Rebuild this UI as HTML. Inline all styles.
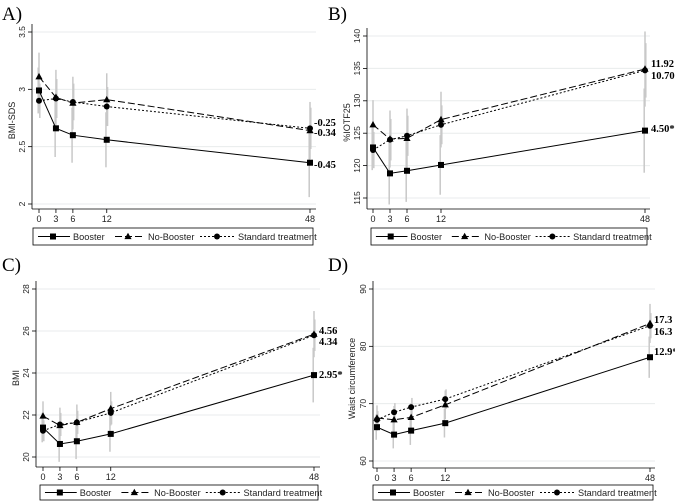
<!DOCTYPE html>
<html><head><meta charset="utf-8">
<style>
html,body{margin:0;padding:0;background:#fff;}
svg{display:block;}
</style></head>
<body>
<svg id="fig" width="675" height="501" viewBox="0 0 675 501" xmlns="http://www.w3.org/2000/svg"></svg>
<script>
// Shared x categories (months)
const months = [0, 3, 6, 12, 48];
const seriesNames = ["Booster", "No-Booster", "Standard treatment"];

// Panel A: BMI-SDS
const aBooster = [2.99, 2.66, 2.60, 2.56, 2.36];
const aNoBooster = [3.11, 2.93, 2.88, 2.91, 2.64];
const aStandard = [2.90, 2.92, 2.89, 2.85, 2.66];
const aErrBooster = [0.20, 0.25, 0.24, 0.24, 0.30];
const aErrNoBooster = [0.21, 0.24, 0.23, 0.23, 0.25];
const aErrStandard = [0.15, 0.17, 0.16, 0.17, 0.18];
const aTicks = [2, 2.5, 3, 3.5];
const aTickLabels = ["2", "2.5", "3", "3.5"];
const aEndLabels = ["-0.45", "-0.25", "-0.34"];

// Panel B: %IOTF25
const bBooster = [122.8, 118.8, 119.2, 120.1, 125.4];
const bNoBooster = [126.3, 124.1, 124.2, 127.1, 134.9];
const bStandard = [122.4, 124.0, 124.6, 126.3, 134.7];
const bErrBooster = [3.5, 4.8, 4.8, 4.6, 6.5];
const bErrNoBooster = [3.8, 4.4, 4.6, 4.3, 5.8];
const bErrStandard = [2.8, 3.2, 3.1, 3.0, 4.2];
const bTicks = [115, 120, 125, 130, 135, 140];
const bTickLabels = ["115", "120", "125", "130", "135", "140"];
const bEndLabels = ["4.50*", "11.92", "10.70"];

// Panel C: BMI
const cBooster = [21.4, 20.62, 20.75, 21.1, 23.9];
const cNoBooster = [21.95, 21.5, 21.65, 22.3, 25.85];
const cStandard = [21.25, 21.55, 21.65, 22.1, 25.8];
const cErrBooster = [0.7, 0.85, 0.85, 0.85, 1.3];
const cErrNoBooster = [0.7, 0.85, 0.85, 0.8, 1.1];
const cErrStandard = [0.5, 0.55, 0.55, 0.55, 0.75];
const cTicks = [20, 22, 24, 26, 28];
const cTickLabels = ["20", "22", "24", "26", "28"];
const cEndLabels = ["2.95*", "4.56", "4.34"];

// Panel D: Waist circumference
const dBooster = [65.9, 64.6, 65.3, 66.6, 78.1];
const dNoBooster = [67.5, 67.2, 67.6, 69.8, 84.0];
const dStandard = [67.2, 68.5, 69.4, 70.8, 83.6];
const dErrBooster = [2.2, 2.4, 2.5, 2.5, 3.6];
const dErrNoBooster = [2.2, 2.4, 2.5, 2.5, 3.4];
const dErrStandard = [1.5, 1.6, 1.6, 1.7, 2.2];
const dTicks = [60, 70, 80, 90];
const dTickLabels = ["60", "70", "80", "90"];
const dEndLabels = ["12.9*", "17.3", "16.3"];

const NS = "http://www.w3.org/2000/svg";
const svg = document.getElementById("fig");

function mk(tag, attrs, parent) {
  const el = document.createElementNS(NS, tag);
  for (const k in attrs) el.setAttribute(k, attrs[k]);
  (parent || svg).appendChild(el);
  return el;
}

const panels = [
  {key:"a", letter:"A)", lx:2, ly:20, title:"BMI-SDS", ser:[aBooster,aNoBooster,aStandard], err:[aErrBooster,aErrNoBooster,aErrStandard],
   ticks:aTicks, tickLabels:aTickLabels, ends:aEndLabels, endY:[164,122,132],
   yaxisX:32, x0:39, x48:310, yMin:2, yMinPx:204, yMax:3.5, yMaxPx:32, axisY:209, gridR:316, titleX:15,
   legX:33, legY:228, legW:280, legH:17, endX:314},
  {key:"b", letter:"B)", lx:328, ly:20, title:"%IOTF25", ser:[bBooster,bNoBooster,bStandard], err:[bErrBooster,bErrNoBooster,bErrStandard],
   ticks:bTicks, tickLabels:bTickLabels, ends:bEndLabels, endY:[128,63,75],
   yaxisX:367, x0:373, x48:645, yMin:115, yMinPx:198, yMax:140, yMaxPx:36, axisY:209, gridR:650, titleX:350,
   legX:371, legY:228, legW:276, legH:17, endX:651},
  {key:"c", letter:"C)", lx:2, ly:271, title:"BMI", ser:[cBooster,cNoBooster,cStandard], err:[cErrBooster,cErrNoBooster,cErrStandard],
   ticks:cTicks, tickLabels:cTickLabels, ends:cEndLabels, endY:[374,330,341],
   yaxisX:36, x0:43, x48:314, yMin:20, yMinPx:457, yMax:28, yMaxPx:289, axisY:467, gridR:320, titleX:19,
   legX:40, legY:485, legW:278, legH:15, endX:319},
  {key:"d", letter:"D)", lx:328, ly:271, title:"Waist circumference", ser:[dBooster,dNoBooster,dStandard], err:[dErrBooster,dErrNoBooster,dErrStandard],
   ticks:dTicks, tickLabels:dTickLabels, ends:dEndLabels, endY:[351,319,331],
   yaxisX:373, x0:377, x48:650, yMin:60, yMinPx:461, yMax:90, yMaxPx:289, axisY:468, gridR:655, titleX:355,
   legX:373, legY:485, legW:280, legH:15, endX:654}
];

const dashes = ["none", "7 3", "2 2"];
const markerTypes = ["square", "triangle", "circle"];

function marker(type, cx, cy, g, name) {
  let el;
  if (type === "square") el = mk("rect", {x:cx-3, y:cy-3, width:6, height:6, fill:"#000"}, g);
  else if (type === "triangle") el = mk("polygon", {points:`${cx},${cy-3.8} ${cx-3.6},${cy+2.6} ${cx+3.6},${cy+2.6}`, fill:"#000"}, g);
  else el = mk("circle", {cx:cx, cy:cy, r:3, fill:"#000"}, g);
  
  
  return el;
}

panels.forEach(p => {
  const g = mk("g", {});
  
  
  const xs = m => p.x0 + (m - 0) / 48 * (p.x48 - p.x0);
  const ys = v => p.yMinPx + (v - p.yMin) / (p.yMax - p.yMin) * (p.yMaxPx - p.yMinPx);

  const lab = mk("text", {x:p.lx, y:p.ly, "font-family":"Liberation Serif, serif", "font-size":19}, g);
  lab.textContent = p.letter;
  
  

  p.ticks.forEach((t, i) => {
    const y = ys(t);
    const gl = mk("line", {x1:p.yaxisX, x2:p.gridR, y1:y, y2:y, stroke:"#e8ebec", "stroke-width":1}, g);
    
    
    mk("line", {x1:p.yaxisX-4, x2:p.yaxisX, y1:y, y2:y, stroke:"#000", "stroke-width":0.8}, g);
    const tx = mk("text", {x:0, y:0, "font-family":"Liberation Sans, sans-serif", "font-size":8.5, "text-anchor":"middle",
      transform:`translate(${p.yaxisX-7},${y}) rotate(-90)`, fill:"#222"}, g);
    tx.textContent = p.tickLabels[i];
    
    
  });
  const ya = mk("line", {x1:p.yaxisX, x2:p.yaxisX, y1:p.yMaxPx-8, y2:p.axisY, stroke:"#000", "stroke-width":0.8}, g);
  
  
  const xa = mk("line", {x1:p.yaxisX, x2:p.gridR, y1:p.axisY, y2:p.axisY, stroke:"#000", "stroke-width":0.8}, g);
  
  
  months.forEach(m => {
    const x = xs(m);
    mk("line", {x1:x, x2:x, y1:p.axisY, y2:p.axisY+4, stroke:"#000", "stroke-width":0.8}, g);
    const tx = mk("text", {x:x, y:p.axisY+13, "font-family":"Liberation Sans, sans-serif", "font-size":9, "text-anchor":"middle", fill:"#222"}, g);
    tx.textContent = String(m);
    
    
  });
  const yt = mk("text", {x:0, y:0, "font-family":"Liberation Sans, sans-serif", "font-size":9, "text-anchor":"middle",
    transform:`translate(${p.titleX},${(p.yMaxPx+p.axisY)/2}) rotate(-90)`, fill:"#222"}, g);
  yt.textContent = p.title;
  
  

  p.ser.forEach((s, si) => {
    s.forEach((v, i) => {
      const x = xs(months[i]) + (si - 1) * 0.8;
      const e = p.err[si][i];
      const eb = mk("line", {x1:x, x2:x, y1:ys(v - e), y2:ys(v + e), stroke:"#c8c8c8", "stroke-width":1.5}, g);
      
      
    });
  });
  p.ser.forEach((s, si) => {
    const pts = s.map((v, i) => xs(months[i]) + "," + ys(v)).join(" ");
    const pl = mk("polyline", {points:pts, fill:"none", stroke:"#000", "stroke-width":1, "stroke-dasharray":dashes[si]}, g);
    
    
    s.forEach((v, i) => marker(markerTypes[si], xs(months[i]), ys(v), g, 'point'));
  });
  p.ends.forEach((t, i) => {
    const tx = mk("text", {x:p.endX, y:p.endY[i] + 4, "font-family":"Liberation Serif, serif", "font-size":10.5, "font-weight":"bold"}, g);
    tx.textContent = t;
    
    
  });
  const lg = mk("g", {}, g);
  
  
  mk("rect", {x:p.legX, y:p.legY, width:p.legW, height:p.legH, fill:"#fff", stroke:"#000", "stroke-width":0.8}, lg);
  const f = p.legW / 280;
  const segs = [[5,37,20,40],[82,110,95,115],[167,202,184,205]];
  const cy = p.legY + p.legH / 2;
  segs.forEach((sg, si) => {
    const ent = mk("g", {}, lg);
    
    
    mk("line", {x1:p.legX+sg[0]*f, x2:p.legX+sg[1]*f, y1:cy, y2:cy, stroke:"#000", "stroke-width":1, "stroke-dasharray":dashes[si]}, ent);
    marker(markerTypes[si], p.legX+sg[2]*f, cy, ent, 'legend-marker');
    const tx = mk("text", {x:p.legX+sg[3]*f, y:cy+3.3, "font-family":"Liberation Sans, sans-serif", "font-size":9.2, fill:"#222"}, ent);
    tx.textContent = seriesNames[si];
  });
});
</script>
</body></html>
